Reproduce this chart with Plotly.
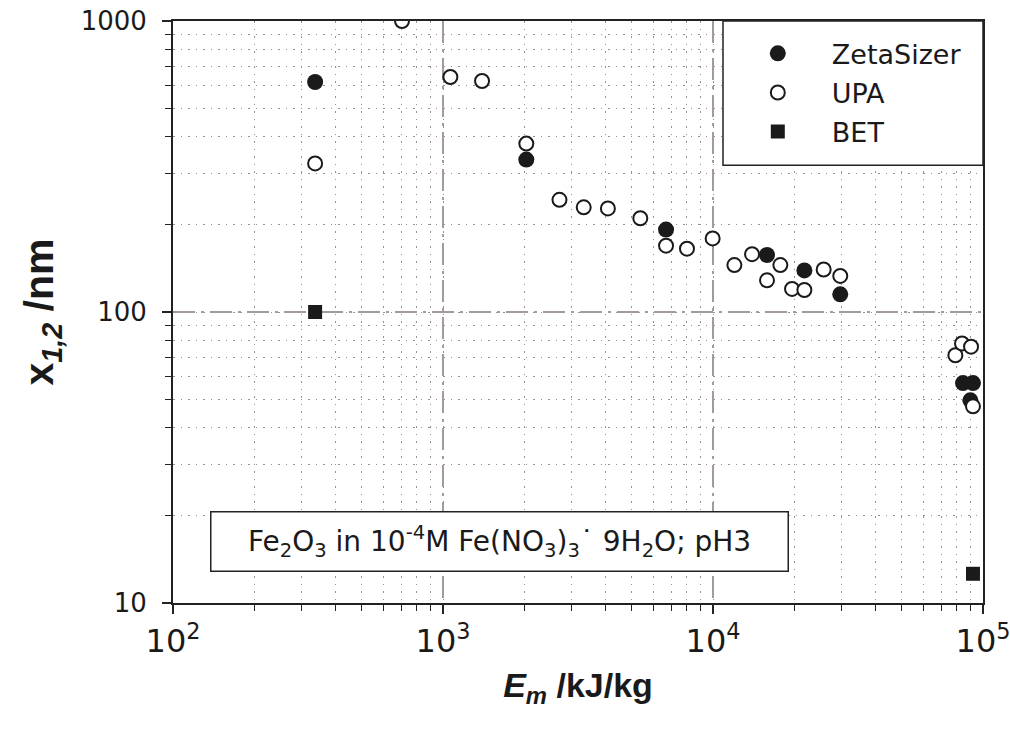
import plotly.graph_objects as go

# Specific energy input E_m (kJ/kg) and particle size x_1,2 (nm)
zeta_x = [336, 2035, 6700, 15850, 21800, 29600, 84300, 91800, 89800]
zeta_y = [617, 334, 192, 157, 139, 115, 57, 57, 49.7]

upa_x = [336, 705, 1065, 1395, 2035, 2700, 3320, 4080, 5380, 6700, 8010, 9970,
         12000, 13950, 15850, 17760, 19620, 21800, 25700, 29600,
         79000, 83600, 90300, 91800]
upa_y = [324, 1000, 642, 622, 379, 243, 229, 227, 210, 169, 165, 179,
         145, 158, 128.5, 145, 120, 119, 140, 133,
         71, 78, 76, 47.4]

bet_x = [336, 91800]
bet_y = [100, 12.6]

x_tickvals = [100, 1000, 10000, 100000]
x_ticktext = ["10<sup>2</sup>", "10<sup>3</sup>", "10<sup>4</sup>", "10<sup>5</sup>"]
y_tickvals = [10, 100, 1000]
y_ticktext = ["10", "100", "1000"]

INK = "#1a1a1a"
MAJOR_GRID = "#a39b97"
MINOR_GRID = "#9a8e8e"
FONT = "DejaVu Sans"
BOLD_FONT = "Liberation Sans"
NBSP = "\u00a0"

fig = go.Figure()

fig.add_trace(go.Scatter(
    x=zeta_x, y=zeta_y, mode="markers", name="ZetaSizer" + NBSP * 2, legendgroup="a",
    marker=dict(symbol="circle", size=16, color=INK, line=dict(width=0)),
))
fig.add_trace(go.Scatter(
    x=upa_x, y=upa_y, mode="markers", name="UPA", legendgroup="b",
    marker=dict(symbol="circle", size=14, color="white", line=dict(width=2, color=INK)),
))
fig.add_trace(go.Scatter(
    x=bet_x, y=bet_y, mode="markers", name="BET", legendgroup="c",
    marker=dict(symbol="square", size=14, color=INK, line=dict(width=0)),
))

axis_common = dict(
    type="log", automargin=False, ticklabeloverflow="allow",
    showline=True, linecolor="#222", linewidth=2, mirror=True,
    ticks="outside", ticklen=9, tickwidth=1.5, tickcolor="#222",
    showgrid=True, gridcolor=MAJOR_GRID, gridwidth=1.5, griddash="22px,6px,3px,6px",
    zeroline=False,
    minor=dict(dtick="D1", ticks="outside", ticklen=6, tickwidth=1.2, tickcolor="#222",
               showgrid=True, gridcolor=MINOR_GRID, gridwidth=1, griddash="1.5px,6px"),
)

fig.update_xaxes(
    **axis_common,
    range=[2, 5],
    tickmode="array", tickvals=x_tickvals, ticktext=x_ticktext,
    tickfont=dict(family=FONT, size=32, color=INK),
    ticklabelstandoff=0,
    title=dict(text="<b><i>E</i><sub><i>m</i></sub> /kJ/kg</b>",
               font=dict(family=BOLD_FONT, size=34, color=INK), standoff=14),
)
fig.update_yaxes(
    **axis_common,
    range=[1, 3],
    tickmode="array", tickvals=y_tickvals, ticktext=y_ticktext,
    tickfont=dict(family=FONT, size=26, color=INK),
    ticklabelstandoff=10,
    title=dict(text="<b>x</b><sub><b><i>1,2</i></b></sub><b> /nm</b>",
               font=dict(family=BOLD_FONT, size=41, color=INK), standoff=14),
)

# Sample description box
fig.add_annotation(
    xref="paper", yref="paper", x=0.4037, y=0.106,
    text="Fe<sub>2</sub>O<sub>3</sub> in 10<sup>-4</sup>M Fe(NO<sub>3</sub>)<sub>3</sub>˙ 9H<sub>2</sub>O; pH3",
    showarrow=False, font=dict(family=FONT, size=28, color=INK),
    width=576, height=58, bgcolor="white", bordercolor="#222", borderwidth=1.5, borderpad=0,
    xanchor="center", yanchor="middle",
)

# Frame behind the legend entries
fig.add_shape(
    type="rect", xref="paper", yref="paper",
    x0=0.679, x1=1.0, y0=0.752, y1=1.0,
    line=dict(color="#222", width=1.5), fillcolor="white", layer="above",
)

fig.update_layout(
    width=1010, height=731,
    margin=dict(l=173, r=27, t=21, b=128),
    paper_bgcolor="white", plot_bgcolor="white",
    showlegend=True,
    legend=dict(
        x=0.680, y=0.9857, xanchor="left", yanchor="top",
        bgcolor="rgba(0,0,0,0)", borderwidth=0,
        font=dict(family=FONT, size=27, color=INK),
        tracegroupgap=1, itemwidth=98, traceorder="grouped",
    ),
)

fig.write_html("out.html")
